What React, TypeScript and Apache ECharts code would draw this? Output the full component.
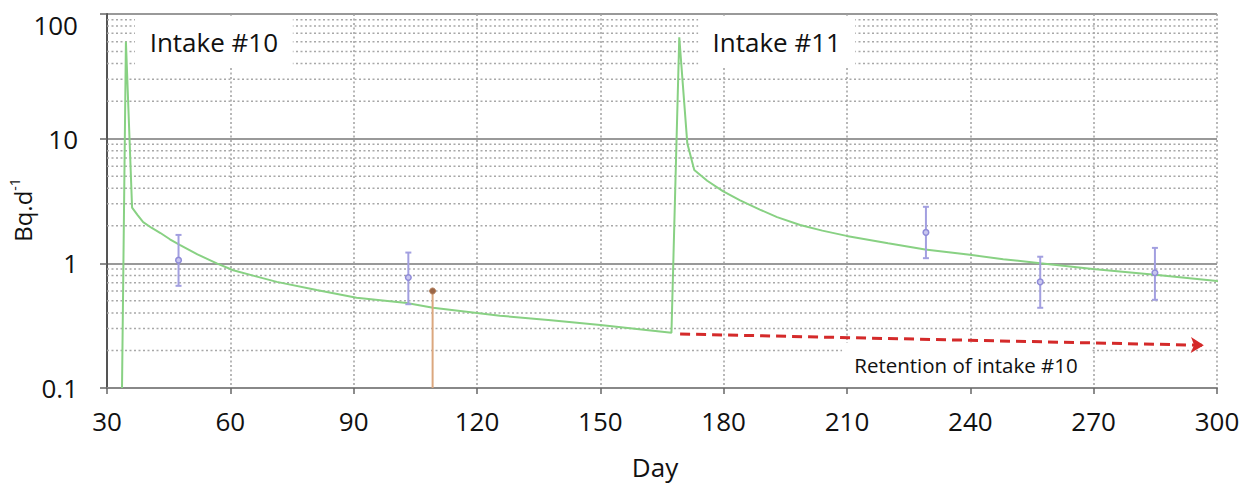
import React, { useEffect, useRef } from 'react';
import * as echarts from 'echarts';

// ---- axes ----
const X_MIN = 30;
const X_MAX = 300;
const X_INTERVAL = 30;
const Y_MIN = 0.1;
const Y_MAX = 100;

// ---- model curve (Bq/d) ----
const curveDays = [
  33.65, 34.6, 36.1, 37.4, 38.8, 40.8, 43, 45.3, 47.8, 52, 56.7, 60.7, 66, 71.3, 81, 90.7, 102.9, 109.3,
  125.6, 138, 150, 160, 167.3, 169.2, 171.15, 172.85, 176, 179.8, 184, 188.8, 193, 198.6,
  204, 209.9, 220, 229, 239.9, 248, 257, 269.8, 284.9, 300, 302.5,
];
const curveValues = [
  0.1, 60, 2.8, 2.45, 2.14, 1.93, 1.75, 1.56, 1.4, 1.18, 1.0, 0.88, 0.79, 0.71, 0.61, 0.53, 0.48, 0.44,
  0.38, 0.35, 0.32, 0.295, 0.278, 65, 9.2, 5.6, 4.6, 3.8, 3.2, 2.7, 2.35, 2.03,
  1.83, 1.66, 1.45, 1.29, 1.17, 1.08, 1.0, 0.9, 0.81, 0.72, 0.71,
];

// ---- measurements with uncertainty ----
const measDays = [47.4, 103.3, 229.2, 257, 284.9];
const measValues = [1.06, 0.77, 1.77, 0.71, 0.84];
const measLow = [0.66, 0.47, 1.1, 0.44, 0.51];
const measHigh = [1.69, 1.22, 2.84, 1.13, 1.33];

// ---- upper-limit measurement ----
const limitDays = [109.2];
const limitValues = [0.6];

// ---- minor log grid lines ----
const minorGridValues = [
  0.2, 0.3, 0.4, 0.5, 0.6, 0.7, 0.8, 0.9,
  2, 3, 4, 5, 6, 7, 8, 9,
  20, 30, 40, 50, 60, 70, 80, 90,
];

// ---- annotations ----
const annotationLabels = ['Intake #10', 'Intake #11', 'Retention of intake #10'];
const annotationXFrom = [36.8, 173.8, 208.8];
const annotationXTo = [75.2, 212, 269.1];
const annotationYFrom = [36.8, 36.8, 0.103];
const annotationYTo = [97, 97, 0.23];
const annotationFontSizes = [26, 26, 20.5];
const retentionArrowFrom = [169.4, 0.271];
const retentionArrowTo = [296.8, 0.22];

const FONT = 'Open Sans';

export default function App() {
  const ref = useRef<HTMLDivElement>(null);

  useEffect(() => {
    document.body.style.margin = '0';
    if (!ref.current) return;
    const chart = echarts.init(ref.current, undefined, { renderer: 'svg' });

    const curveData = curveDays.map((d, i) => [d, curveValues[i]]);
    const measData = measDays.map((d, i) => [d, measValues[i], measLow[i], measHigh[i]]);
    const limitData = limitDays.map((d, i) => [d, Y_MIN, limitValues[i]]);
    const gridData = minorGridValues.map((v) => [X_MIN, v]);
    const boxData = annotationLabels.map((_, i) => [
      annotationXFrom[i], annotationXTo[i], annotationYFrom[i], annotationYTo[i],
    ]);

    const option: any = {
      animation: false,
      grid: { left: 107, right: 29, top: 14, bottom: 96, containLabel: false, outerBoundsMode: 'none' },
      graphic: [
        {
          type: 'text',
          x: 22,
          y: 210,
          rotation: Math.PI / 2,
          silent: true,
          style: {
            text: '{a|Bq.d}{b|-1}',
            align: 'center',
            verticalAlign: 'middle',
            rich: {
              a: { fontSize: 24, fontFamily: FONT, fill: '#111', color: '#111', lineHeight: 30 },
              b: { fontSize: 14, fontFamily: FONT, fill: '#111', color: '#111', verticalAlign: 'top', lineHeight: 30 },
            },
          },
        },
      ],
      xAxis: {
        type: 'value',
        min: X_MIN,
        max: X_MAX,
        interval: X_INTERVAL,
        name: 'Day',
        nameLocation: 'middle',
        nameGap: 66,
        nameTextStyle: { fontSize: 26, fontFamily: FONT, color: '#111', padding: [0, 14, 0, 0] },
        axisLine: { show: true, onZero: false, lineStyle: { color: '#888', width: 2 } },
        axisTick: { show: true, length: 6, lineStyle: { color: '#666', width: 1.5 } },
        axisLabel: { fontSize: 26, fontFamily: FONT, color: '#111', margin: 20 },
        splitLine: { show: true, lineStyle: { color: '#a0a0a0', width: 1.5, type: [2, 2.5] } },
      },
      yAxis: {
        type: 'log',
        logBase: 10,
        min: Y_MIN,
        max: Y_MAX,
        axisLine: { show: true, onZero: false, lineStyle: { color: '#555', width: 2 } },
        axisTick: { show: true, length: 7, lineStyle: { color: '#666', width: 1.5 } },
        axisLabel: {
          fontSize: 26,
          fontFamily: FONT,
          color: '#111',
          margin: 29,
          formatter: (v: number) => {
            const s = v < 1 ? '0.1' : String(Math.round(v));
            return v >= 99 ? '{t|' + s + '}' : s;
          },
          rich: {
            t: { fontSize: 26, fontFamily: FONT, color: '#111', padding: [22, 0, 0, 0] },
          },
        },
        splitLine: { show: true, lineStyle: { color: '#999', width: 2, type: 'solid' } },
      },
      series: [
        {
          type: 'custom',
          name: 'minor-grid',
          z: 1,
          silent: true,
          data: gridData,
          encode: { x: 0, y: 1 },
          renderItem: (params: any, api: any) => {
            const cs = params.coordSys;
            const p = api.coord([api.value(0), api.value(1)]);
            return {
              type: 'line',
              shape: { x1: cs.x, y1: p[1], x2: cs.x + cs.width, y2: p[1] },
              style: { stroke: '#a8a8a8', lineWidth: 1.5, lineDash: [2, 2.5] },
            };
          },
        },
        {
          type: 'custom',
          name: 'annotations',
          z: 1.5,
          silent: true,
          data: boxData,
          encode: { x: [0, 1], y: [2, 3] },
          renderItem: (params: any, api: any) => {
            const i = params.dataIndex;
            const p0 = api.coord([api.value(0), api.value(3)]);
            const p1 = api.coord([api.value(1), api.value(2)]);
            return {
              type: 'group',
              children: [
                {
                  type: 'rect',
                  shape: { x: p0[0], y: p0[1], width: p1[0] - p0[0], height: p1[1] - p0[1] },
                  style: { fill: '#ffffff' },
                },
                {
                  type: 'text',
                  style: {
                    text: annotationLabels[i],
                    x: (p0[0] + p1[0]) / 2,
                    y: (p0[1] + p1[1]) / 2,
                    align: 'center',
                    verticalAlign: 'middle',
                    fontSize: annotationFontSizes[i],
                    fontFamily: FONT,
                    fill: '#111',
                  },
                },
              ],
            };
          },
        },
        {
          type: 'line',
          name: 'model',
          z: 2,
          silent: true,
          clip: false,
          data: curveData,
          showSymbol: false,
          symbol: 'none',
          lineStyle: { color: '#88d183', width: 2 },
          markLine: {
            silent: true,
            symbol: ['none', 'arrow'],
            symbolSize: [12, 13],
            label: { show: false },
            emphasis: { disabled: true },
            lineStyle: { color: '#d42a2a', width: 3, type: [10, 6] },
            data: [[{ coord: retentionArrowFrom }, { coord: retentionArrowTo }]],
          },
        },
        {
          type: 'custom',
          name: 'measurements',
          z: 3,
          silent: true,
          data: measData,
          encode: { x: 0, y: [1, 2, 3] },
          renderItem: (params: any, api: any) => {
            const c = api.coord([api.value(0), api.value(1)]);
            const lo = api.coord([api.value(0), api.value(2)]);
            const hi = api.coord([api.value(0), api.value(3)]);
            const col = '#a29fe0';
            return {
              type: 'group',
              children: [
                { type: 'line', shape: { x1: c[0], y1: lo[1], x2: c[0], y2: hi[1] }, style: { stroke: col, lineWidth: 2 } },
                { type: 'line', shape: { x1: c[0] - 3, y1: lo[1], x2: c[0] + 3, y2: lo[1] }, style: { stroke: col, lineWidth: 2 } },
                { type: 'line', shape: { x1: c[0] - 3, y1: hi[1], x2: c[0] + 3, y2: hi[1] }, style: { stroke: col, lineWidth: 2 } },
                { type: 'circle', shape: { cx: c[0], cy: c[1], r: 2.8 }, style: { stroke: '#8f8bd8', fill: '#c9c7f0', lineWidth: 1.5 } },
              ],
            };
          },
        },
        {
          type: 'custom',
          name: 'limit',
          z: 3,
          silent: true,
          data: limitData,
          encode: { x: 0, y: [1, 2] },
          renderItem: (params: any, api: any) => {
            const lo = api.coord([api.value(0), api.value(1)]);
            const hi = api.coord([api.value(0), api.value(2)]);
            return {
              type: 'group',
              children: [
                { type: 'line', shape: { x1: lo[0], y1: lo[1], x2: hi[0], y2: hi[1] }, style: { stroke: '#dba77e', lineWidth: 2 } },
                { type: 'circle', shape: { cx: hi[0], cy: hi[1], r: 3 }, style: { fill: '#9a6647', stroke: '#b07a55', lineWidth: 1 } },
              ],
            };
          },
        },
      ],
    };

    chart.setOption(option);
    return () => chart.dispose();
  }, []);

  return <div ref={ref} style={{ width: 1246, height: 484 }} />;
}
